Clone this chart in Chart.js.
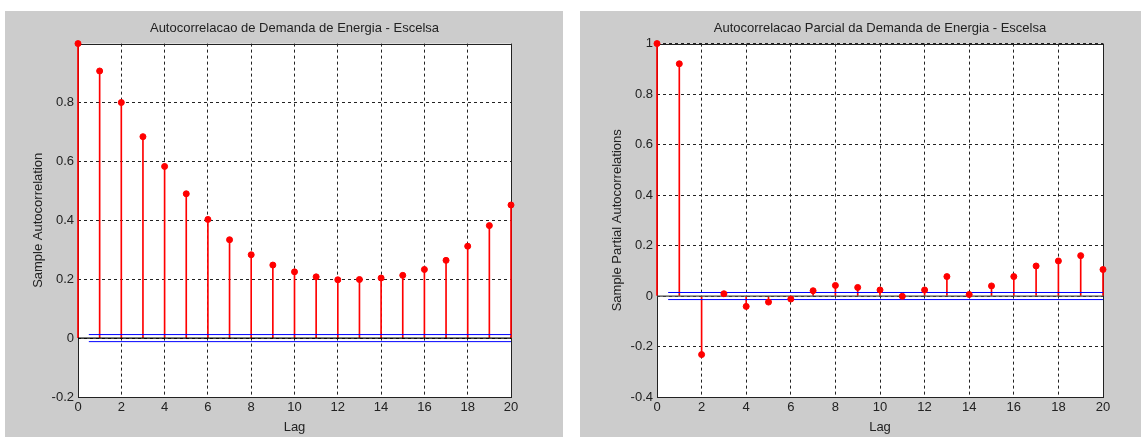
<!DOCTYPE html>
<html>
<head>
<meta charset="utf-8">
<script src="https://cdn.jsdelivr.net/npm/chart.js@4.4.1/dist/chart.umd.min.js"></script>
<style>
  html, body { margin: 0; padding: 0; background: #ffffff; width: 1144px; height: 437px; overflow: hidden; }
  .panel { position: absolute; background: #cccccc; }
  #p1 { left: 5px; top: 11px; width: 558px; height: 426px; }
  #p2 { left: 580px; top: 11px; width: 561px; height: 426px; }
  canvas { display: block; }
</style>
</head>
<body>
<div class="panel" id="p1"><canvas id="c1" width="558" height="426"></canvas></div>
<div class="panel" id="p2"><canvas id="c2" width="561" height="426"></canvas></div>
<script>
// ---- data ----
const lags = [0,1,2,3,4,5,6,7,8,9,10,11,12,13,14,15,16,17,18,19,20];
const acfValues = [1.0,0.907,0.80,0.684,0.583,0.49,0.403,0.334,0.283,0.248,0.225,0.208,0.198,0.199,0.204,0.213,0.233,0.264,0.312,0.382,0.452];
const pacfValues = [1.0,0.92,-0.232,0.009,-0.041,-0.024,-0.012,0.021,0.042,0.034,0.024,-0.001,0.024,0.077,0.006,0.04,0.077,0.119,0.139,0.16,0.105];
const acfBound = 0.012;
const pacfBound = 0.014;
const boundStartLag = 0.5;
const xTickLabels = [0,2,4,6,8,10,12,14,16,18,20];
const acfYTicks = [-0.2,0,0.2,0.4,0.6,0.8];
const pacfYTicks = [-0.4,-0.2,0,0.2,0.4,0.6,0.8,1];
const titles = ['Autocorrelacao de Demanda de Energia - Escelsa', 'Autocorrelacao Parcial da Demanda de Energia - Escelsa'];
const yLabels = ['Sample Autocorrelation', 'Sample Partial Autocorrelations'];
const xLabel = 'Lag';

const FONT = 'Liberation Sans, Arial, sans-serif';
const FS = 13;
const TEXT = '#222222';

const boxPlugin = {
  id: 'box',
  afterLayout(chart) {
    // centre the title over the plot area, as in the reference
    if (chart.titleBlock) {
      chart.titleBlock.left = chart.chartArea.left;
      chart.titleBlock.right = chart.chartArea.right;
    }
  },
  beforeDraw(chart) {
    const a = chart.chartArea, ctx = chart.ctx;
    ctx.save();
    ctx.fillStyle = '#ffffff';
    ctx.fillRect(a.left, a.top, a.right - a.left, a.bottom - a.top);
    ctx.restore();
  },
  beforeDatasetsDraw(chart, args, opts) {
    const a = chart.chartArea, ctx = chart.ctx;
    ctx.save();
    ctx.strokeStyle = opts.color || '#000';
    ctx.lineWidth = 1;
    ctx.strokeRect(Math.round(a.left) + 0.5, Math.round(a.top) + 0.5, Math.round(a.right - a.left), Math.round(a.bottom - a.top));
    ctx.restore();
  }
};

function makeChart(id, values, bound, yMin, yTicks, title, yLabel, yWidth, padRight, titlePadTop, yTitlePad, zeroColor) {
  const stemData = lags.map((l, i) => ({x: l, y: values[i]}));
  const lastLag = lags[lags.length - 1];
  const tickSet = yTicks.map(v => Math.round(v * 10));
  return new Chart(document.getElementById(id), {
    type: 'bar',
    data: {
      datasets: [
        { type: 'line', data: stemData, showLine: false, pointRadius: 3, pointBackgroundColor: '#ff0000', pointBorderColor: '#ff0000', pointBorderWidth: 1, order: 0, clip: false },
        { type: 'line', data: [{x: boundStartLag, y: bound}, {x: lastLag, y: bound}], borderColor: '#0000ff', borderWidth: 1, pointRadius: 0, order: 1 },
        { type: 'line', data: [{x: boundStartLag, y: -bound}, {x: lastLag, y: -bound}], borderColor: '#0000ff', borderWidth: 1, pointRadius: 0, order: 1 },
        { type: 'line', data: [{x: 0, y: 0}, {x: lastLag, y: 0}], borderColor: zeroColor, borderWidth: 1.2, pointRadius: 0, order: 2 },
        { type: 'bar', data: stemData, backgroundColor: '#ff0000', barThickness: 1, borderWidth: 0, order: 3, clip: false }
      ]
    },
    options: {
      responsive: false,
      animation: false,
      events: [],
      layout: { padding: { left: 0, right: padRight, top: 0, bottom: 0 } },
      plugins: {
        legend: { display: false },
        tooltip: { enabled: false },
        title: { display: true, text: title, color: TEXT, font: { family: FONT, size: FS, weight: 'normal' }, padding: { top: titlePadTop, bottom: 7 } },
        box: { color: '#222' }
      },
      scales: {
        x: {
          type: 'linear', min: 0, max: lastLag, offset: false,
          afterBuildTicks: s => { s.ticks = xTickLabels.map(v => ({value: v})); },
          afterFit: s => { s.height = 40; },
          ticks: { color: TEXT, font: { family: FONT, size: FS }, padding: 3, maxRotation: 0, autoSkip: false },
          grid: { offset: false, color: '#222', lineWidth: 1, drawTicks: false },
          border: { display: false, dash: [3, 3] },
          title: { display: true, text: xLabel, color: TEXT, font: { family: FONT, size: FS }, padding: { top: 0, bottom: 2 } }
        },
        y: {
          min: yMin, max: 1,
          afterBuildTicks: s => { s.ticks = yTicks.map(v => ({value: v})); },
          afterFit: s => { s.width = yWidth; },
          ticks: { color: TEXT, font: { family: FONT, size: FS }, padding: 4, autoSkip: false,
                   callback: v => { const r = Math.round(v * 10) / 10; return tickSet.includes(Math.round(v * 10)) ? String(r) : ''; } },
          grid: { color: '#222', lineWidth: 1, drawTicks: false },
          border: { display: false, dash: [3, 3] },
          title: { display: true, text: yLabel, color: TEXT, font: { family: FONT, size: FS }, padding: { top: yTitlePad, bottom: 0 } }
        }
      }
    },
    plugins: [boxPlugin]
  });
}

makeChart('c1', acfValues, acfBound, -0.2, acfYTicks, titles[0], yLabels[0], 73, 52, 10, 26, '#000000');
makeChart('c2', pacfValues, pacfBound, -0.4, pacfYTicks, titles[1], yLabels[1], 77, 38, 10, 30, '#444444');
</script>
</body>
</html>
